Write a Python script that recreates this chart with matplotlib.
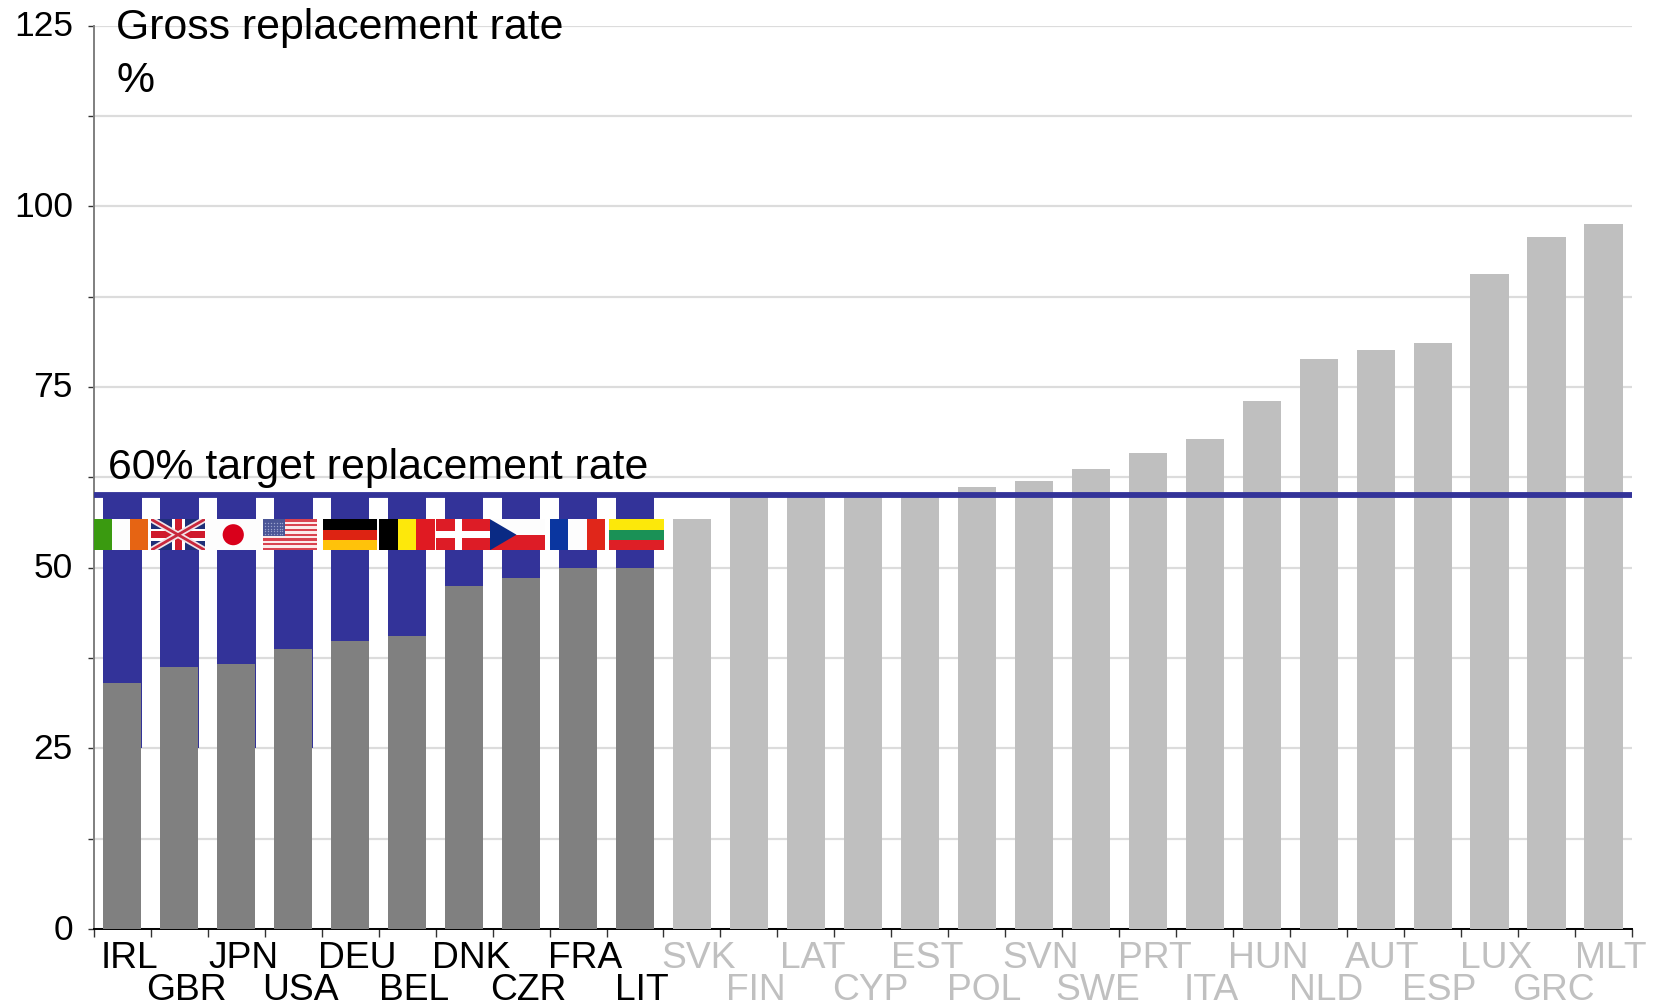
import matplotlib
matplotlib.use("Agg")
import matplotlib.pyplot as plt
from matplotlib.patches import Rectangle, Polygon, Circle
from matplotlib.transforms import ScaledTranslation

plt.rcParams["font.family"] = ["Liberation Sans", "DejaVu Sans"]

W, H = 1653, 1006
AX_L, AX_R, AX_T, AX_B = 93.75, 1632, 25.5, 929

# Highlighted countries, lowest rate first
focus_codes = ["IRL", "GBR", "JPN", "USA", "DEU", "BEL", "DNK", "CZR", "FRA", "LIT"]
focus_rates = [34.0, 36.3, 36.6, 38.7, 39.8, 40.5, 47.5, 48.6, 49.9, 50.0]

# Remaining countries
other_codes = ["SVK", "FIN", "LAT", "CYP", "EST", "POL", "SVN", "SWE", "PRT", "ITA",
               "HUN", "NLD", "AUT", "ESP", "LUX", "GRC", "MLT"]
other_rates = [56.7, 59.7, 59.8, 60.0, 60.0, 61.1, 62.0, 63.7, 65.9, 67.8,
               73.1, 78.8, 80.1, 81.1, 90.6, 95.7, 97.6]

target_rate = 60
gap_floor = 25
y_labelled = [0, 25, 50, 75, 100, 125]
y_ticks = [0, 12.5, 25, 37.5, 50, 62.5, 75, 87.5, 100, 112.5, 125]

# Flag strip: left edges and widths in figure pixels, vertical extent in axis units
flag_lefts = [93.8, 151, 206, 263, 323, 379, 436, 490, 550, 609]
flag_widths = [54, 54, 54.5, 54, 54, 56, 54, 55, 55, 55]
flag_y_low, flag_y_high = 52.4, 56.7

BLUE = "#333399"
DARK = "#808080"
LIGHT = "#bfbfbf"
GRID = "#dcdcdc"

fig = plt.figure(figsize=(W / 100, H / 100), dpi=100, facecolor="white")
ax = fig.add_axes([AX_L / W, 1 - AX_B / H, (AX_R - AX_L) / W, (AX_B - AX_T) / H])

n_focus = len(focus_codes)
n_other = len(other_codes)
x_focus = list(range(n_focus))
x_other = list(range(n_focus, n_focus + n_other))
n_all = n_focus + n_other

ax.set_xlim(-0.5, n_all - 0.5)
ax.set_ylim(0, 125)
ax.set_axisbelow(True)
ax.yaxis.grid(True, color=GRID, linewidth=1.6)
ax.xaxis.grid(False)

bar_w = 0.67
ax.bar(x_focus, [target_rate - gap_floor] * n_focus, bottom=gap_floor, width=bar_w + 0.01,
       color=BLUE, zorder=2)
ax.bar(x_focus, focus_rates, width=bar_w, color=DARK, zorder=3)
ax.bar(x_other, other_rates, width=bar_w, color=LIGHT, zorder=3)
ax.axhline(target_rate, color=BLUE, linewidth=4.2, zorder=4)

for side in ("top", "right"):
    ax.spines[side].set_visible(False)
ax.spines["left"].set_color("#7f7f7f")
ax.spines["left"].set_linewidth(1.4)
ax.spines["bottom"].set_color("black")
ax.spines["bottom"].set_linewidth(1.4)

ax.set_yticks(y_ticks)
ax.set_yticklabels([str(int(v)) if v in y_labelled else "" for v in y_ticks], fontsize=25.5)
ax.tick_params(axis="y", length=4, width=1, color="#333333", pad=11)
# Numbers sit slightly above their gridlines
lift = ScaledTranslation(0, 2.5 / 100, fig.dpi_scale_trans)
for lab in ax.get_yticklabels():
    lab.set_transform(lab.get_transform() + lift)
ax.set_xticks([i - 0.5 for i in range(n_all + 1)])
ax.set_xticklabels([])
ax.tick_params(axis="x", length=6, width=1, color="#333333")


def code_label(i, code, color):
    row_down = 29 if i % 2 == 0 else 62
    ax.annotate(code, xy=(i, 0), xycoords=("data", "axes fraction"),
                xytext=(7, -row_down), textcoords="offset pixels",
                ha="center", va="center", fontsize=26.8, color=color, clip_on=False)


for i, code in zip(x_focus, focus_codes):
    code_label(i, code, "black")
for i, code in zip(x_other, other_codes):
    code_label(i, code, "#c0c0c0")

fig.text(116 / W, 1 - 28 / H, "Gross replacement rate", fontsize=30.8, va="center", ha="left")
fig.text(116 / W, 1 - 81 / H, "%", fontsize=30.8, va="center", ha="left")
ax.annotate("60% target replacement rate", xy=(0, target_rate), xycoords=("axes fraction", "data"),
            xytext=(14, 27), textcoords="offset pixels", fontsize=30.8, va="center", ha="left")


# Flags are drawn on a 54 x 31 grid
def stripes_v(a, colors):
    w = 54 / len(colors)
    for k, c in enumerate(colors):
        a.add_patch(Rectangle((k * w, 0), w, 31, color=c, lw=0))


def stripes_h(a, colors):
    h = 31 / len(colors)
    for k, c in enumerate(colors):
        a.add_patch(Rectangle((0, 31 - (k + 1) * h), 54, h, color=c, lw=0))


def flag_irl(a):
    stripes_v(a, ["#3a9a10", "#fdfdfd", "#e66413"])


def flag_gbr(a):
    a.add_patch(Rectangle((0, 0), 54, 31, color="#1f2f78", lw=0))
    a.plot([0, 54], [0, 31], color="#f0e4e8", lw=4.5, solid_capstyle="butt")
    a.plot([0, 54], [31, 0], color="#f0e4e8", lw=4.5, solid_capstyle="butt")
    a.plot([0, 54], [0, 31], color="#c8283c", lw=2, solid_capstyle="butt")
    a.plot([0, 54], [31, 0], color="#c8283c", lw=2, solid_capstyle="butt")
    a.add_patch(Rectangle((20.5, 0), 13, 31, color="white", lw=0))
    a.add_patch(Rectangle((0, 9.5), 54, 12, color="white", lw=0))
    a.add_patch(Rectangle((23.5, 0), 7, 31, color="#cf1a2c", lw=0))
    a.add_patch(Rectangle((0, 12), 54, 7, color="#cf1a2c", lw=0))


def flag_jpn(a):
    a.add_patch(Rectangle((0, 0), 54, 31, color="#fdfdfd", lw=0))
    a.add_patch(Circle((27, 15.5), 10.5, color="#d9001b", lw=0))


def flag_usa(a):
    stripes_h(a, ["#d9424f", "#fbeaea"] * 6 + ["#d9424f"])
    a.add_patch(Rectangle((0, 14.3), 22, 16.7, color="#4a5596", lw=0))
    xs = [2 + 2.9 * k for k in range(7)]
    ys = [16.3 + 2.6 * k for k in range(5)]
    a.scatter([x for x in xs for _ in ys], [y for _ in xs for y in ys],
              s=1.0, color="#9aa2cc", lw=0)


def flag_deu(a):
    stripes_h(a, ["#000000", "#dd2312", "#ffc20a"])


def flag_bel(a):
    stripes_v(a, ["#000000", "#fde80b", "#e01a22"])


def flag_dnk(a):
    a.add_patch(Rectangle((0, 0), 54, 31, color="#dd1c26", lw=0))
    a.add_patch(Rectangle((19, 0), 7, 31, color="white", lw=0))
    a.add_patch(Rectangle((0, 12), 54, 7, color="white", lw=0))


def flag_czr(a):
    stripes_h(a, ["#fdfdfd", "#dd1c26"])
    a.add_patch(Polygon([(0, 0), (0, 31), (26, 15.5)], color="#0a2a84", lw=0))


def flag_fra(a):
    stripes_v(a, ["#0a36a0", "#fdfdfd", "#e0261a"])


def flag_lit(a):
    stripes_h(a, ["#fce80a", "#1a9156", "#de1f26"])


flag_painters = [flag_irl, flag_gbr, flag_jpn, flag_usa, flag_deu,
                 flag_bel, flag_dnk, flag_czr, flag_fra, flag_lit]

px_per_cat = (AX_R - AX_L) / n_all
for left, width, paint in zip(flag_lefts, flag_widths, flag_painters):
    x0 = (left - AX_L) / px_per_cat - 0.5
    inset = ax.inset_axes([x0, flag_y_low, width / px_per_cat, flag_y_high - flag_y_low],
                          transform=ax.transData, zorder=5)
    inset.set_xlim(0, 54)
    inset.set_ylim(0, 31)
    inset.axis("off")
    paint(inset)

fig.savefig("out.png", dpi=100, facecolor="white")
